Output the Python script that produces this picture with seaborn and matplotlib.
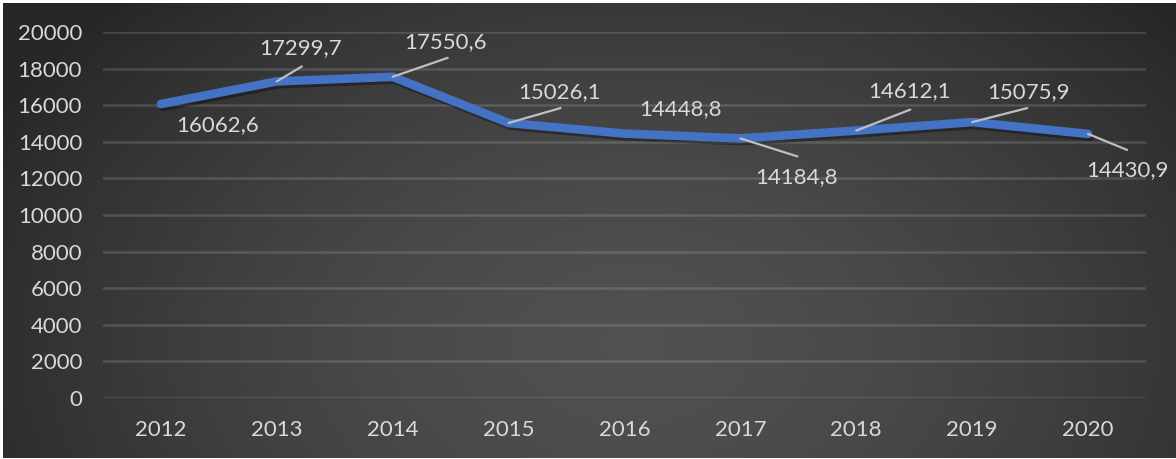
import numpy as np
import pandas as pd
import matplotlib
matplotlib.use("Agg")
import matplotlib.pyplot as plt
import matplotlib.patheffects as pe
import seaborn as sns

# Chart data
years = ["2012", "2013", "2014", "2015", "2016", "2017", "2018", "2019", "2020"]
values = [16062.6, 17299.7, 17550.6, 15026.1, 14448.8, 14184.8, 14612.1, 15075.9, 14430.9]
y_ticks = [0, 2000, 4000, 6000, 8000, 10000, 12000, 14000, 16000, 18000, 20000]

# label placement (pixel offsets from the point): text centre and leader end
label_offsets = [(57, -21), (24, 33), (53, 35), (51, 31), (56, 24),
                 (56, -39), (53, 40), (56, 30), (39, -36)]
leader_ends = [None, (25, 15), (55, 19), (52, 15), None,
               (57, -18), (54, 21), (55, 14), (39, -16)]

df = pd.DataFrame({"pos": np.arange(len(years)), "year": years, "value": values})

sns.set_theme(style="dark")
plt.rcParams["font.family"] = ["Lato", "DejaVu Sans"]

fig = plt.figure(figsize=(11.76, 4.59), dpi=100, facecolor="white")

# radial gradient background
bg = fig.add_axes([3 / 1176, 1 / 459, 1 - 3 / 1176, 1 - 4 / 459])
h, w = 454, 1173
yy, xx = np.mgrid[0:h, 0:w]
r = np.sqrt(((xx - 630) / 720.0) ** 2 + ((yy - 340) / 480.0) ** 2)
shade = 0.155 + (0.315 - 0.155) * np.clip(1 - r ** 1.6, 0, 1)
img = np.dstack([shade, shade, shade])
bg.imshow(img, aspect="auto", extent=[0, 1, 0, 1], origin="upper")
bg.set_xlim(0, 1)
bg.set_ylim(0, 1)
bg.set_axis_off()

ax = fig.add_axes([103 / 1176, 61 / 459, (1146 - 103) / 1176, (398 - 32) / 459])
ax.patch.set_alpha(0)

sns.lineplot(data=df, x="pos", y="value", ax=ax, color="#4472C4", linewidth=6.2,
             solid_capstyle="round", solid_joinstyle="round",
             path_effects=[pe.SimpleLineShadow(offset=(1.5, -2), shadow_color="black", alpha=0.35),
                           pe.Normal()])

ax.set_xlim(-0.5, len(years) - 0.5)
ax.set_ylim(0, 20000)
ax.set_yticks(y_ticks)
ax.set_yticklabels([str(t) for t in y_ticks])
ax.set_xticks(df["pos"])
ax.set_xticklabels(years)
ax.set_xlabel("")
ax.set_ylabel("")
ax.grid(axis="y", color="white", linewidth=1.8, alpha=0.14)
ax.grid(axis="x", visible=False)
ax.set_axisbelow(True)
for s in ax.spines.values():
    s.set_visible(False)
ax.tick_params(axis="y", colors="#d9d9d9", labelsize=16, pad=15, length=0)
ax.tick_params(axis="x", colors="#d9d9d9", labelsize=16, pad=16, length=0)

for i, (x, v) in enumerate(zip(df["pos"], values)):
    txt = f"{v:.1f}".replace(".", ",")
    ax.annotate(txt, xy=(x, v), xytext=label_offsets[i], textcoords="offset pixels",
                ha="center", va="center", color="#d9d9d9", fontsize=16)
    if leader_ends[i] is not None:
        ax.annotate("", xy=(x, v), xytext=leader_ends[i], textcoords="offset pixels",
                    arrowprops=dict(arrowstyle="-", color="#bfbfbf", lw=1.6,
                                    shrinkA=0, shrinkB=0))

fig.savefig("out.png", dpi=100, facecolor="white")
